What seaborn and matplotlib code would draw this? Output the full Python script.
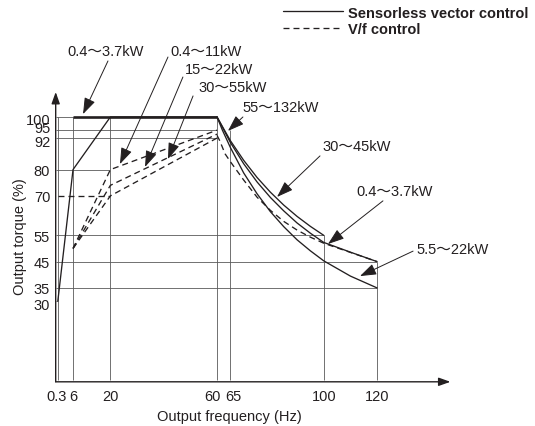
"""
continuous torque vs output frequency, sensorless vector vs V/f
"""
import pandas as pd
import seaborn as sns
import matplotlib.pyplot as plt
import matplotlib.transforms as mtrans
from matplotlib.lines import Line2D

sns.set_style("white")
plt.rcParams["font.family"] = ["Liberation Sans", "Noto Sans CJK JP"]
plt.rcParams["font.size"] = 10.5
plt.rcParams["lines.scale_dashes"] = False

INK = "#231f20"
GRID = "#5a5a5a"
DASH = (4.3, 2.9)

# ---- data
x_ticks = [0.3, 6, 20, 60, 65, 100, 120]
x_tick_labels = ["0.3", "6", "20", "60", "65", "100", "120"]
y_ticks = [100, 95, 92, 80, 70, 55, 45, 35, 30]

# reference lines: level and where they stop
h_levels = [100, 95, 92, 80, 55, 45, 35, 30]
h_ends = [60, 60, 60, 20, 100, 120, 120, 0.3]
v_levels = [0.3, 6, 20, 60, 65, 100, 120]
v_tops = [100, 100, 100, 100, 95, 55, 45]

# sensorless vector control (solid)
svc_low_hz = [0.3, 6, 20, 60]
svc_low_pct = [30, 80, 100, 100]
svc_top_hz = [6, 60]
svc_top_pct = [100, 100]
svc_30_45_hz = [60, 65, 70, 75, 80, 85, 90, 95, 100]
svc_30_45_pct = [100, 91, 83.5, 77, 71.4, 66.5, 62.2, 58.4, 55]
svc_04_37_hz = [60, 65, 70, 75, 80, 85, 90, 95, 100, 110, 120]
svc_04_37_pct = [100, 90.3, 82.2, 75.3, 69.4, 64.3, 59.7, 55.8, 52.3, 48.6, 45]
svc_55_22_hz = [60, 62, 65, 70, 75, 80, 85, 90, 95, 100, 110, 120]
svc_55_22_pct = [100, 95, 88.4, 78.7, 70.8, 64, 58.3, 53.3, 49.1, 45.3, 39.5, 35]

# V/f control (dashed)
vf_04_11_hz = [6, 20, 60]
vf_04_11_pct = [50, 80, 95]
vf_15_22_hz = [6, 20, 60]
vf_15_22_pct = [50, 74, 93.5]
vf_30_55_hz = [6, 20, 60]
vf_30_55_pct = [50, 70, 92]
vf_70_hz = [0.3, 20]
vf_70_pct = [70, 70]
vf_high_hz = [60, 61, 63, 65, 70, 75, 80, 85, 90, 95, 100, 110, 120]
vf_high_pct = [93, 91, 86, 83, 76, 69.5, 64.5, 60.3, 57, 54.3, 52, 48.5, 45]

# annotation labels: text, text anchor (left, middle), arrow start, arrow tip
ann_text = ["0.4～3.7kW", "0.4～11kW", "15～22kW", "30～55kW",
            "55～132kW", "30～45kW", "0.4～3.7kW", "5.5～22kW"]
ann_pos = [(3.75, 125.1), (42.4, 125.1), (48.0, 118.3), (52.9, 111.4),
           (69.7, 103.8), (99.4, 89.0), (112.1, 71.9), (134.6, 49.8)]
ann_from = [(19.1, 121.3), (41.6, 122.8), (47.2, 115.2), (51.0, 108.0),
            (69.7, 100.0), (98.6, 85.2), (122.2, 68.1), (133.5, 49.0)]
ann_tip = [(9.75, 101.1), (23.6, 82.1), (33.0, 81.0), (41.6, 84.0),
           (64.1, 94.7), (82.5, 69.6), (101.6, 51.7), (113.6, 39.5)]

SVC = "Sensorless vector control"
VF = "V/f control"
curves = {
    "svc_low": (SVC, svc_low_hz, svc_low_pct),
    "svc_30_45": (SVC, svc_30_45_hz, svc_30_45_pct),
    "svc_04_37": (SVC, svc_04_37_hz, svc_04_37_pct),
    "svc_55_22": (SVC, svc_55_22_hz, svc_55_22_pct),
    "vf_04_11": (VF, vf_04_11_hz, vf_04_11_pct),
    "vf_15_22": (VF, vf_15_22_hz, vf_15_22_pct),
    "vf_30_55": (VF, vf_30_55_hz, vf_30_55_pct),
    "vf_70": (VF, vf_70_hz, vf_70_pct),
    "vf_high": (VF, vf_high_hz, vf_high_pct),
}
rows = []
for name, (ctrl, hz, pct) in curves.items():
    for f, t in zip(hz, pct):
        rows.append(dict(curve=name, control=ctrl, freq=f, torque=t))
df = pd.DataFrame(rows)

# ---- figure
XLIM = (-0.5, 147.5)
YLIM = (-0.7, 109.5)
fig = plt.figure(figsize=(5.35, 4.27), dpi=100)
ax = fig.add_axes([0.1041, 0.1035, 0.7378, 0.6787])
ax.set_xlim(*XLIM)
ax.set_ylim(*YLIM)

ax.hlines(h_levels, XLIM[0], h_ends, color=GRID, lw=0.6, zorder=1)
ax.vlines(v_levels, 0, v_tops, color=GRID, lw=0.6, zorder=1)

sns.lineplot(data=df, x="freq", y="torque", units="curve", estimator=None,
             style="control", dashes={SVC: "", VF: DASH}, sort=False,
             color=INK, lw=0.95, legend=False, ax=ax, zorder=3)
ax.plot(svc_top_hz, svc_top_pct, color=INK, lw=1.9, solid_capstyle="butt", zorder=3)

for txt, pos, start, tip in zip(ann_text, ann_pos, ann_from, ann_tip):
    ax.text(pos[0], pos[1], txt, ha="left", va="center", color=INK)
    ax.annotate("", xy=tip, xytext=start,
                arrowprops=dict(arrowstyle="-|>,head_length=1.0,head_width=0.35",
                                color=INK, lw=0.7, shrinkA=0, shrinkB=0,
                                mutation_scale=10))

# axes drawn as arrows
for s in ax.spines.values():
    s.set_visible(False)
arrow_kw = dict(arrowstyle="-|>,head_length=0.7,head_width=0.25", color=INK,
                lw=1.0, shrinkA=0, shrinkB=0, mutation_scale=10)
ax.annotate("", xy=(0, 1), xytext=(0, 0), xycoords="axes fraction", arrowprops=arrow_kw)
ax.annotate("", xy=(1, 0), xytext=(0, 0), xycoords="axes fraction", arrowprops=arrow_kw)

ax.set_xticks(x_ticks, x_tick_labels)
ax.set_yticks(y_ticks, [str(v) for v in y_ticks])
ax.tick_params(axis="both", length=0, colors=INK)
ax.tick_params(axis="x", pad=5)
ax.tick_params(axis="y", pad=4)


def shift(label, dx, dy):
    label.set_transform(label.get_transform()
                        + mtrans.ScaledTranslation(dx / 72, dy / 72, fig.dpi_scale_trans))


# nudge the crowded labels apart
y_nudge = {"100": -1.2, "95": 2.9, "92": -1.6, "30": -1.5}
for lab in ax.get_yticklabels():
    if lab.get_text() in y_nudge:
        shift(lab, 0, y_nudge[lab.get_text()])
x_nudge = {"0.3": -1.0, "60": -3.0, "65": 2.0}
for lab in ax.get_xticklabels():
    if lab.get_text() in x_nudge:
        shift(lab, x_nudge[lab.get_text()], 0)

ax.set_xlabel("Output frequency (Hz)", color=INK)
ax.set_ylabel("Output torque (%)", color=INK)
ax.xaxis.set_label_coords(0.439, -0.095)
ax.yaxis.set_label_coords(-0.073, 0.503)

handles = [Line2D([], [], color=INK, lw=0.95),
           Line2D([], [], color=INK, lw=0.95, dashes=DASH)]
fig.legend(handles, [SVC, VF], loc="upper left", bbox_to_anchor=(283 / 535, 1 - 6.5 / 427),
           frameon=False, borderaxespad=0, borderpad=0, handlelength=4.1,
           handletextpad=0.35, labelspacing=0.2, prop={"weight": "bold", "size": 10.5},
           labelcolor=INK)

fig.savefig("out.png", dpi=100)
plt.close()
